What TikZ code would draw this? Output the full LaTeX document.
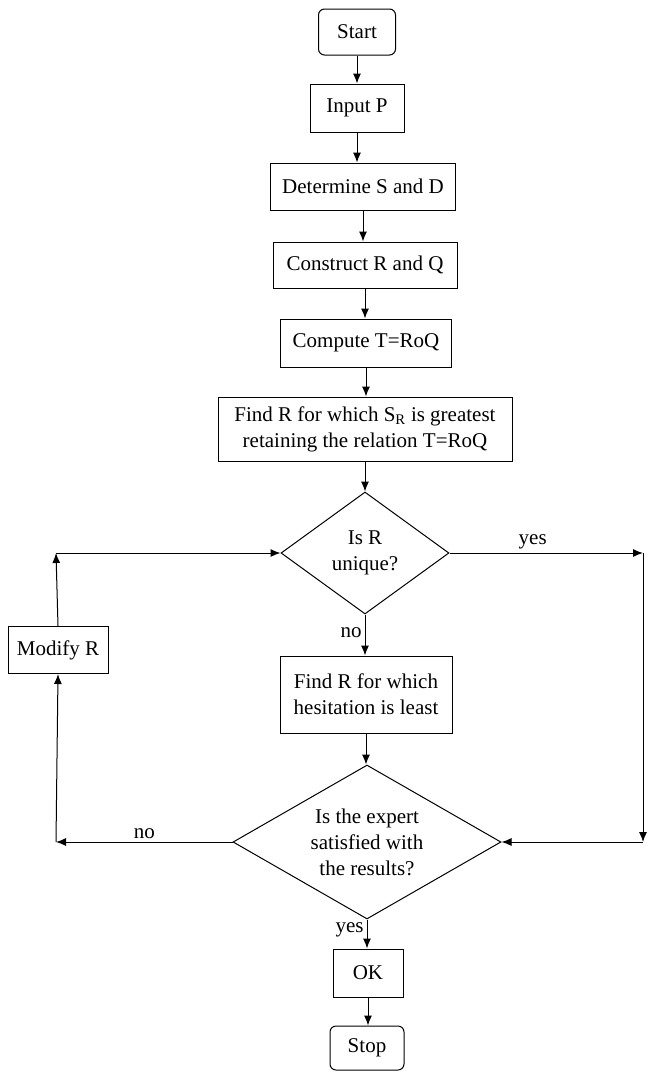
\documentclass[tikz,border=0pt]{standalone}
\usepackage{fontspec}
\setmainfont{Liberation Serif}
\usetikzlibrary{shapes.geometric,arrows.meta}

\begin{document}
\begin{tikzpicture}[x=1pt,y=-1pt]
	\tikzstyle{every node}+=[inner sep=0pt, font=\fontsize{21}{26}\selectfont]
	\tikzstyle{proc}=[draw, line width=1pt, rectangle, align=center]
	\tikzstyle{term}=[proc, rounded corners=6pt]
	\tikzstyle{decide}=[draw, line width=1pt, diamond, align=center]
	\tikzstyle{flow}=[line width=1pt, -{Latex[length=10pt,width=8pt]}]
	\useasboundingbox (0,0) rectangle (647,1072);
	\node [term, minimum width=77, minimum height=46] (start) at (357,32) {Start};
	\node [proc, minimum width=94, minimum height=48] (inp) at (357,108) {Input P};
	\node [proc, minimum width=185, minimum height=47] (det) at (363,186.5) {Determine S and D};
	\node [proc, minimum width=184, minimum height=46] (con) at (365,265) {Construct R and Q};
	\node [proc, minimum width=171, minimum height=48] (comp) at (366,343) {Compute T=RoQ};
	\node [proc, minimum width=294, minimum height=64] (great) at (365,429) {Find R for which S$_\mathrm{R}$ is greatest\\retaining the relation T=RoQ};
	\node [decide, aspect=1.38, minimum width=168, minimum height=122] (d1) at (365,553) {Is R\\unique?};
	\node [proc, minimum width=100, minimum height=47] (modify) at (58,650) {Modify R};
	\node [proc, minimum width=172, minimum height=77] (hes) at (366,694.5) {Find R for which\\hesitation is least};
	\node [decide, aspect=1.74, minimum width=268, minimum height=154] (d2) at (367,842) {Is the expert\\satisfied with\\the results?};
	\node [proc, minimum width=70, minimum height=48] (ok) at (368,973) {OK};
	\node [term, minimum width=74, minimum height=44] (stop) at (367,1048) {Stop};
	\coordinate (rt) at (643,553);
	\coordinate (rb) at (643,842);
	\coordinate (lt) at (56,553);
	\coordinate (lb) at (56,842);
	\draw [flow] (start) -- (inp);
	\draw [flow] (inp.south) -- (inp.south |- det.north);
	\draw [flow] (det.south) -- (det.south |- con.north);
	\draw [flow] (con.south) -- (con.south |- comp.north);
	\draw [flow] (comp.south) -- (comp.south |- great.north);
	\draw [flow] (great) -- (d1);
	\draw [flow] (d1.south) -- node [left=3pt, pos=0.45] {no} (d1.south |- hes.north);
	\draw [flow] (hes.south) -- (hes.south |- d2.north);
	\draw [flow] (d2.south) -- node [left=3pt, pos=0.35] {yes} (d2.south |- ok.north);
	\draw [flow] (ok.south) -- (ok.south |- stop.north);
	\draw [flow] (d1.east) -- node [above=3pt, pos=0.43] {yes} (rt);
	\draw [flow] (rt) -- (rb);
	\draw [flow] (rb) -- (d2.east);
	\draw [flow] (d2.west) -- node [above=3pt] {no} (lb);
	\draw [flow] (lb) -- (modify.south);
	\draw [flow] (modify.north) -- (lt);
	\draw [flow] (lt) -- (d1.west);
\end{tikzpicture}
\end{document}
